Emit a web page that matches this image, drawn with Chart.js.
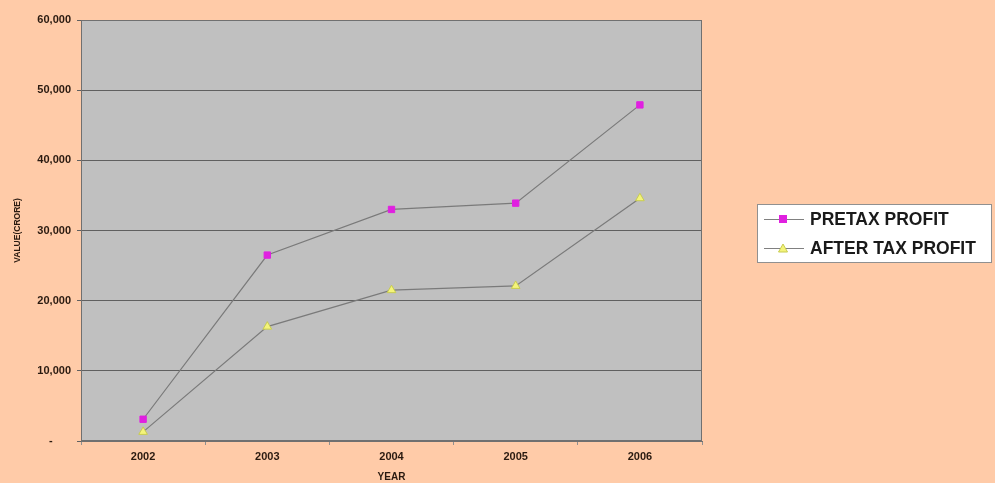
<!DOCTYPE html>
<html>
<head>
<meta charset="utf-8">
<script src="https://cdn.jsdelivr.net/npm/chart.js@4/dist/chart.umd.min.js"></script>
<style>
  html, body { margin: 0; padding: 0; background: #FFCBA8; }
  #wrap { position: relative; width: 995px; height: 483px; }
  canvas { display: block; }
</style>
</head>
<body>
<div id="wrap"><canvas id="c" width="995" height="483"></canvas></div>
<script>
const years = ['2002', '2003', '2004', '2005', '2006'];
const pretaxProfit = [3100, 26500, 33000, 33900, 47900];
const afterTaxProfit = [1300, 16300, 21500, 22100, 34600];
const seriesNames = ['PRETAX PROFIT', 'AFTER TAX PROFIT'];
const yTickLabels = ['-', '10,000', '20,000', '30,000', '40,000', '50,000', '60,000'];
const yTitle = 'VALUE(CRORE)';
const xTitle = 'YEAR';

const plotBg = {
  id: 'plotBg',
  beforeDraw(chart) {
    const {ctx, chartArea: a} = chart;
    ctx.save();
    ctx.fillStyle = '#C0C0C0';
    ctx.fillRect(a.left, a.top, a.right - a.left, a.bottom - a.top);
    ctx.restore();
  },
  afterDatasetsDraw(chart) {
    const {ctx, chartArea: a} = chart;
    ctx.save();
    ctx.strokeStyle = '#707070';
    ctx.lineWidth = 1;
    ctx.strokeRect(a.left + 0.5, a.top + 0.5, a.right - a.left - 1, a.bottom - a.top - 1);
    ctx.restore();
  }
};

const customLegend = {
  id: 'customLegend',
  afterDraw(chart) {
    const ctx = chart.ctx;
    const x0 = 757, y0 = 204, w = 235, h = 59;
    ctx.save();
    ctx.fillStyle = '#FFFFFF';
    ctx.fillRect(x0, y0, w, h);
    ctx.strokeStyle = '#909090';
    ctx.lineWidth = 1;
    ctx.strokeRect(x0 + 0.5, y0 + 0.5, w - 1, h - 1);
    const rows = [y0 + 15, y0 + 44];
    chart.data.datasets.forEach((ds, i) => {
      const y = rows[i];
      ctx.strokeStyle = '#808080';
      ctx.lineWidth = 1;
      ctx.beginPath();
      ctx.moveTo(764, y + 0.5);
      ctx.lineTo(804, y + 0.5);
      ctx.stroke();
      ctx.fillStyle = ds.pointBackgroundColor;
      ctx.strokeStyle = ds.pointBorderColor;
      if (ds.pointStyle === 'rect') {
        ctx.fillRect(779, y - 4, 8, 8);
      } else {
        ctx.beginPath();
        ctx.moveTo(783, y - 4);
        ctx.lineTo(787.5, y + 4);
        ctx.lineTo(778.5, y + 4);
        ctx.closePath();
        ctx.fill();
        ctx.stroke();
      }
      ctx.fillStyle = '#1a1a1a';
      ctx.font = 'bold 17.5px "Liberation Sans", Arial, sans-serif';
      ctx.textBaseline = 'middle';
      ctx.textAlign = 'left';
      ctx.fillText(ds.label, 810, y + 1);
    });
    ctx.restore();
  }
};

const FONT = '"Liberation Sans", Arial, sans-serif';

new Chart(document.getElementById('c'), {
  type: 'line',
  data: {
    labels: years,
    datasets: [
      {
        label: seriesNames[0],
        data: pretaxProfit,
        borderColor: '#7a7a7a',
        borderWidth: 1.2,
        pointStyle: 'rect',
        pointRadius: 4.5,
        pointBackgroundColor: '#E020E0',
        pointBorderColor: '#E020E0',
        pointBorderWidth: 1,
        tension: 0
      },
      {
        label: seriesNames[1],
        data: afterTaxProfit,
        borderColor: '#7a7a7a',
        borderWidth: 1.2,
        pointStyle: 'triangle',
        pointRadius: 5,
        pointBackgroundColor: '#F4F47A',
        pointBorderColor: '#C8CC50',
        pointBorderWidth: 1,
        tension: 0
      }
    ]
  },
  plugins: [plotBg, customLegend],
  options: {
    responsive: false,
    animation: false,
    layout: { padding: { left: 13, right: 293, top: 20, bottom: 0 } },
    plugins: {
      legend: { display: false },
      tooltip: { enabled: false }
    },
    scales: {
      x: {
        offset: true,
        grid: { display: true, offset: true, drawOnChartArea: false, drawTicks: true, tickLength: 4, color: '#909090' },
        border: { display: true, color: '#707070' },
        ticks: { color: '#2a1a10', font: { family: FONT, size: 11, weight: 'bold' }, padding: 5, maxRotation: 0 },
        title: { display: true, text: xTitle, color: '#2a1a10', font: { family: FONT, size: 10, weight: 'bold' }, padding: { top: 0, bottom: 0 } },
        afterFit(s) { s.height = 42; }
      },
      y: {
        min: 0,
        max: 60000,
        grid: { color: '#606060', lineWidth: 1, drawTicks: true, tickLength: 4 },
        border: { display: true, color: '#707070' },
        ticks: {
          stepSize: 10000,
          color: '#2a1a10',
          font: { family: FONT, size: 11, weight: 'bold' },
          padding: 6,
          callback: (v) => {
            const i = Math.round(v / 10000);
            return i === 0 ? yTickLabels[0] + '      ' : yTickLabels[i];
          }
        },
        title: { display: true, text: yTitle, color: '#2a1a10', font: { family: FONT, size: 8.5, weight: 'bold' }, padding: { top: 0, bottom: 4 } },
        afterFit(s) { s.width = 68; }
      }
    }
  }
});
</script>
</body>
</html>
